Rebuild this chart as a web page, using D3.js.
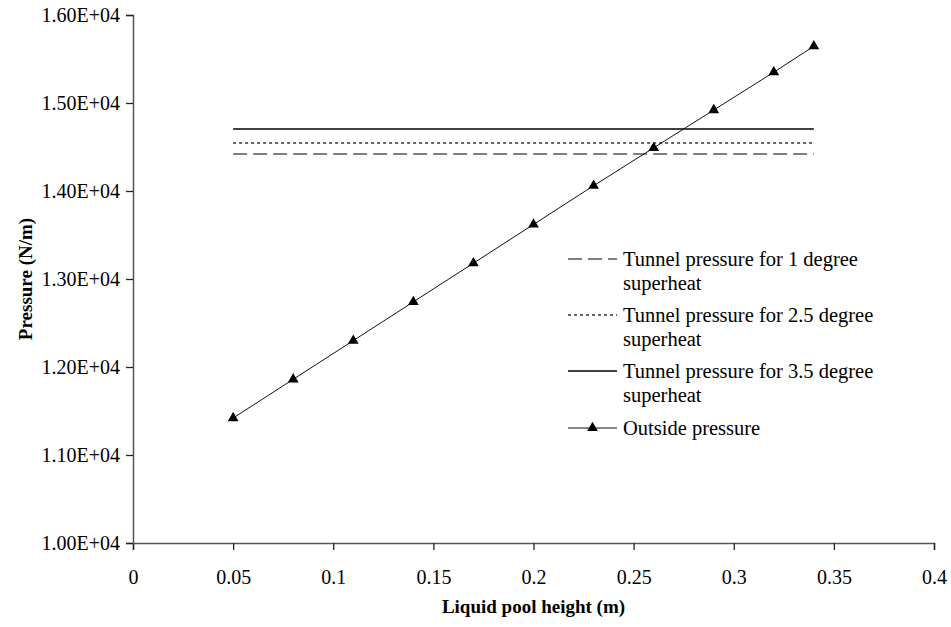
<!DOCTYPE html>
<html>
<head>
<meta charset="utf-8">
<script src="https://cdn.jsdelivr.net/npm/d3@7"></script>
<style>
  body { margin: 0; background: #fff; }
  svg { display: block; font-family: "Liberation Serif", "Times New Roman", serif; }
</style>
</head>
<body>
<div id="chart"></div>
<script>
// data
const heights = [0.05, 0.08, 0.11, 0.14, 0.17, 0.2, 0.23, 0.26, 0.29, 0.32, 0.34];
const outsidePressure = [11420, 11860, 12300, 12740, 13180, 13620, 14060, 14490, 14920, 15350, 15645];
const tunnelNames = ["Tunnel pressure for 1 degree superheat", "Tunnel pressure for 2.5 degree superheat", "Tunnel pressure for 3.5 degree superheat"];
const tunnelPressure = [14420, 14545, 14705];
const tunnelRange = [0.05, 0.34];
const xTicks = [0, 0.05, 0.1, 0.15, 0.2, 0.25, 0.3, 0.35, 0.4];
const yTicks = [10000, 11000, 12000, 13000, 14000, 15000, 16000];

const width = 951, height = 627;
const margin = {left: 133, right: 17, top: 15, bottom: 84};

const svg = d3.select("#chart").append("svg")
  .attr("width", width)
  .attr("height", height);

const x = d3.scaleLinear().domain([0, 0.4]).range([margin.left, width - margin.right]);
const y = d3.scaleLinear().domain([10000, 16000]).range([height - margin.bottom, margin.top]);

// axes
const xAxis = svg.append("g")
  .attr("transform", `translate(0,${y(10000)})`)
  .call(d3.axisBottom(x).tickValues(xTicks).tickSize(7).tickPadding(20).tickFormat(d => d3.format("")(d)));
const yAxis = svg.append("g")
  .attr("transform", `translate(${x(0)},0)`)
  .call(d3.axisLeft(y).tickValues(yTicks).tickSize(7).tickPadding(6)
    .tickFormat(d => (d / 10000).toFixed(2) + "E+04"));

[xAxis, yAxis].forEach(g => {
  g.select(".domain").attr("stroke", "#555").attr("stroke-width", 1.5);
  g.selectAll(".tick line").attr("stroke", "#222").attr("stroke-width", 1.3);
  g.selectAll(".tick text").attr("fill", "#000").style("font-size", "20px")
    .style("font-family", "'Liberation Serif', serif");
});

// tunnel pressure lines
const dashes = ["14,6", "3,3", null];
const strokes = ["#555", "#333", "#000"];
tunnelPressure.forEach((v, i) => {
  svg.append("line")
    .attr("x1", x(tunnelRange[0])).attr("x2", x(tunnelRange[1]))
    .attr("y1", y(v)).attr("y2", y(v))
    .attr("stroke", strokes[i])
    .attr("stroke-width", 1.5)
    .attr("stroke-dasharray", dashes[i]);
});

// outside pressure
const pts = heights.map((h, i) => [h, outsidePressure[i]]);
svg.append("path")
  .datum(pts)
  .attr("fill", "none")
  .attr("stroke", "#111")
  .attr("stroke-width", 1)
  .attr("d", d3.line().x(d => x(d[0])).y(d => y(d[1])));

const tri = d3.symbol().type(d3.symbolTriangle).size(50);
svg.selectAll(".marker")
  .data(pts)
  .enter().append("path")
  .attr("class", "marker")
  .attr("transform", d => `translate(${x(d[0])},${y(d[1])})`)
  .attr("d", tri)
  .attr("fill", "#000");

// legend
const legend = svg.append("g").attr("transform", "translate(568,0)");
const legendRows = [
  {lines: ["Tunnel pressure for 1 degree", "superheat"], y: 259, dash: dashes[0], color: strokes[0]},
  {lines: ["Tunnel pressure for 2.5 degree", "superheat"], y: 315, dash: dashes[1], color: strokes[1]},
  {lines: ["Tunnel pressure for 3.5 degree", "superheat"], y: 371, dash: dashes[2], color: strokes[2]},
  {lines: ["Outside pressure"], y: 428, dash: null, color: "#111", marker: true}
];
legendRows.forEach(r => {
  legend.append("line")
    .attr("x1", 0).attr("x2", 49)
    .attr("y1", r.y).attr("y2", r.y)
    .attr("stroke", r.color)
    .attr("stroke-width", r.marker ? 1 : 1.5)
    .attr("stroke-dasharray", r.dash);
  if (r.marker) {
    legend.append("path")
      .attr("transform", `translate(24.5,${r.y})`)
      .attr("d", tri)
      .attr("fill", "#000");
  }
  r.lines.forEach((t, k) => {
    legend.append("text")
      .attr("x", 55)
      .attr("y", r.y + k * 24)
      .attr("dy", "0.35em")
      .style("font-size", "20.5px")
      .text(t);
  });
});

// axis titles
svg.append("text")
  .attr("x", x(0.2))
  .attr("y", 613)
  .attr("text-anchor", "middle")
  .style("font-size", "19px")
  .style("font-weight", "bold")
  .text("Liquid pool height (m)");

svg.append("text")
  .attr("transform", `translate(25,${y(13000)}) rotate(-90)`)
  .attr("text-anchor", "middle")
  .attr("dy", "0.35em")
  .style("font-size", "19px")
  .style("font-weight", "bold")
  .text("Pressure (N/m)");
</script>
</body>
</html>
